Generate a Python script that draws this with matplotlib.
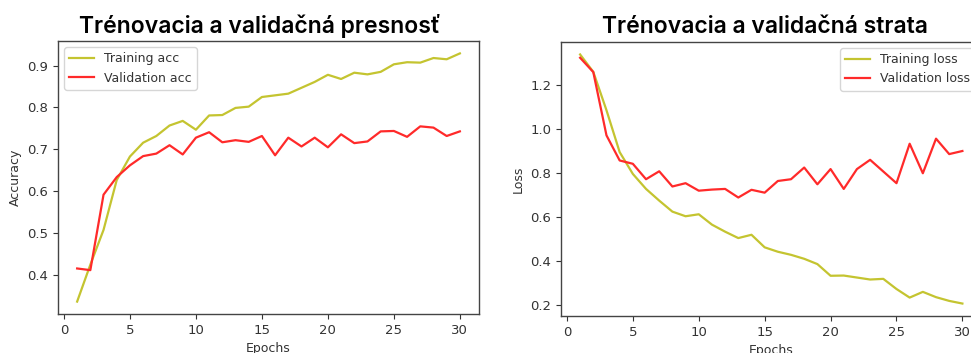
import matplotlib
matplotlib.use("Agg")
import matplotlib.pyplot as plt

epochs = list(range(1, 31))
train_acc = [0.337, 0.425, 0.508, 0.627, 0.683, 0.716, 0.732, 0.757, 0.768, 0.747,
             0.781, 0.782, 0.799, 0.802, 0.825, 0.829, 0.833, 0.847, 0.861, 0.878,
             0.868, 0.883, 0.879, 0.885, 0.903, 0.908, 0.907, 0.918, 0.915, 0.929]
val_acc = [0.416, 0.412, 0.592, 0.634, 0.662, 0.684, 0.690, 0.710, 0.688, 0.728,
           0.741, 0.717, 0.722, 0.718, 0.732, 0.686, 0.728, 0.707, 0.728, 0.705,
           0.736, 0.715, 0.719, 0.743, 0.744, 0.730, 0.755, 0.752, 0.732, 0.743]
train_loss = [1.338, 1.259, 1.085, 0.895, 0.796, 0.728, 0.675, 0.625, 0.604, 0.613,
              0.566, 0.534, 0.505, 0.520, 0.463, 0.443, 0.429, 0.411, 0.387, 0.334,
              0.335, 0.326, 0.317, 0.320, 0.274, 0.235, 0.261, 0.237, 0.220, 0.208]
val_loss = [1.323, 1.258, 0.971, 0.857, 0.842, 0.772, 0.808, 0.739, 0.754, 0.720,
            0.725, 0.728, 0.689, 0.724, 0.711, 0.764, 0.772, 0.825, 0.749, 0.818,
            0.728, 0.818, 0.860, 0.807, 0.754, 0.933, 0.799, 0.956, 0.886, 0.900]

titles = ["Trénovacia a validačná presnosť", "Trénovacia a validačná strata"]
ylabels = ["Accuracy", "Loss"]
xlabel = "Epochs"
legend_acc = ["Training acc", "Validation acc"]
legend_loss = ["Training loss", "Validation loss"]

W, H = 971, 353
fig = plt.figure(figsize=(W / 100, H / 100), dpi=100)

txt = "#333333"
plt.rcParams['font.size'] = 9

def px_axes(x0, y0, x1, y1):
    return fig.add_axes([x0 / W, 1 - y1 / H, (x1 - x0) / W, (y1 - y0) / H])

ax1 = px_axes(58, 41, 479, 314)
ax2 = px_axes(561, 42, 981.5, 316)

for ax, tr, va, leg, yl, loc in [
    (ax1, train_acc, val_acc, legend_acc, ylabels[0], "upper left"),
    (ax2, train_loss, val_loss, legend_loss, ylabels[1], "upper right"),
]:
    ax.plot(epochs, tr, color="#c4c430", lw=1.6, label=leg[0])
    ax.plot(epochs, va, color="#ff2a2a", lw=1.6, label=leg[1])
    ax.set_xlabel(xlabel, color=txt, fontsize=9)
    ax.set_ylabel(yl, color=txt, fontsize=9)
    ax.tick_params(colors=txt, labelsize=9.5)
    for s in ax.spines.values():
        s.set_color("#444444")
        s.set_linewidth(1.0)
    lg = ax.legend(loc=loc, fontsize=9)
    for t in lg.get_texts():
        t.set_color(txt)

fig.text(259.5 / W, 1 - 33.3 / H, titles[0], ha="center", va="baseline",
         fontsize=16.5, family="Inter", weight="semibold", color="black")
fig.text(765 / W, 1 - 33.3 / H, titles[1], ha="center", va="baseline",
         fontsize=16.5, family="Inter", weight="semibold", color="black")

fig.savefig("out.png", dpi=100)
